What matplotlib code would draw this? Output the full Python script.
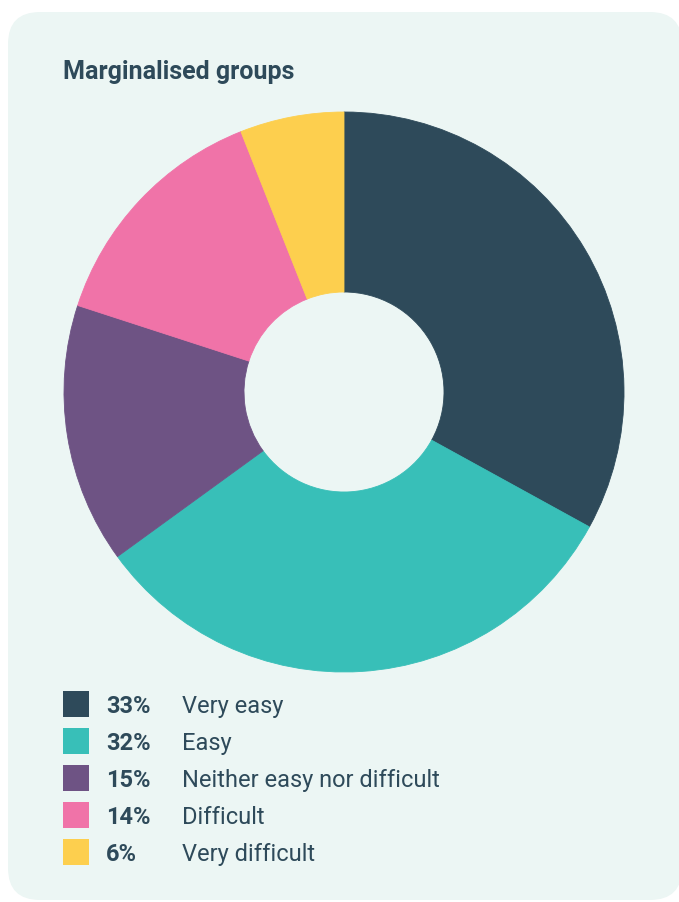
"""Marginalised groups donut chart."""

import matplotlib

matplotlib.use("Agg")

import matplotlib.pyplot as plt
from matplotlib.patches import FancyBboxPatch, Rectangle

labels = ["Very easy", "Easy", "Neither easy nor difficult", "Difficult", "Very difficult"]
shares = [33, 32, 15, 14, 6]
colors = ["#2E4A5A", "#38BFB8", "#6E5384", "#F073A8", "#FDCF4E"]

W, H = 679, 902
CARD = "#ECF6F4"
INK = "#2E4A5A"
FONT = ["Roboto", "DejaVu Sans"]


def inch(x, y):
    # pixel position from the top-left corner -> inches from bottom-left
    return x / 100, (H - y) / 100


def main() -> None:
    fig = plt.figure(figsize=(W / 100, H / 100), dpi=100, facecolor="white")

    # rounded card behind everything
    x0, y0 = inch(8, 900)
    card = FancyBboxPatch(
        (x0, y0), (682 - 8) / 100, (900 - 12) / 100,
        boxstyle="round,pad=0,rounding_size=0.32",
        transform=fig.dpi_scale_trans, facecolor=CARD, edgecolor="none", zorder=-5,
    )
    fig.patches.append(card)

    fig.text(63 / W, 1 - 79 / H, "Marginalised groups", fontsize=18, fontweight="bold",
             color=INK, family=FONT, va="baseline", ha="left")

    # donut: centre (344, 392), outer radius 280, inner radius 100
    cx, cy, r = 344, 392, 280
    ax = fig.add_axes([(cx - r) / W, 1 - (cy + r) / H, 2 * r / W, 2 * r / H], zorder=2)
    wedges, _ = ax.pie(shares, colors=colors, startangle=90, counterclock=False,
                       radius=1, wedgeprops=dict(width=1 - 100 / r, linewidth=0.6))
    for w in wedges:
        w.set_edgecolor(w.get_facecolor())
    ax.set_xlim(-1, 1)
    ax.set_ylim(-1, 1)
    ax.set_axis_off()

    # legend rows
    for i, (lab, val, col) in enumerate(zip(labels, shares, colors)):
        yc = 704 + i * 37
        sx, sy = inch(63, yc + 13)
        fig.patches.append(Rectangle((sx, sy), 0.26, 0.26, transform=fig.dpi_scale_trans,
                                     facecolor=col, edgecolor="none"))
        fig.text(106 / W, 1 - (yc + 9) / H, f"{val}%", fontsize=17, fontweight="bold",
                 color=INK, family=FONT, va="baseline", ha="left")
        fig.text(182 / W, 1 - (yc + 9) / H, lab, fontsize=17, color=INK,
                 family=FONT, va="baseline", ha="left")

    fig.savefig("out.png", dpi=100, facecolor="white")


if __name__ == "__main__":
    main()
